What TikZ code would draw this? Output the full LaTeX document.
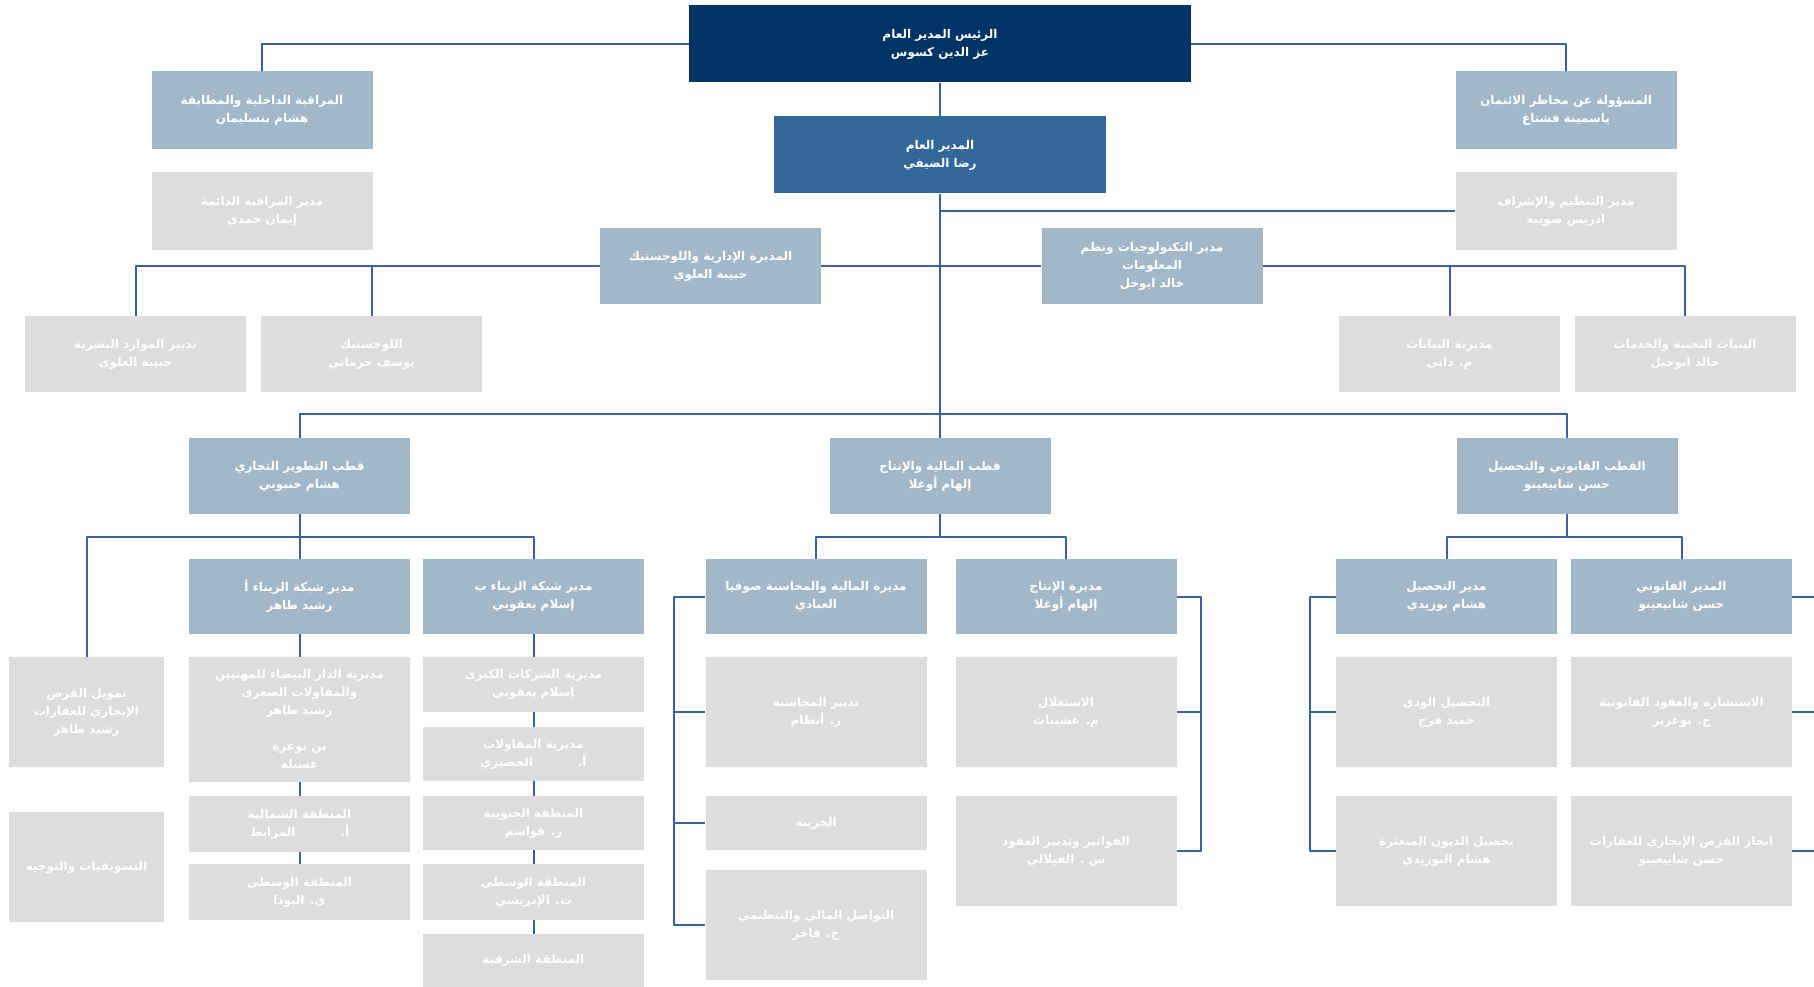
\documentclass[tikz,border=0pt]{standalone}
\usepackage{fontspec}
\newfontfamily\arabicfont[Script=Arabic]{DejaVu Sans}
\TeXXeTstate=1
\definecolor{navy}{RGB}{0,51,102}
\definecolor{dgblue}{RGB}{51,102,153}
\definecolor{steel}{RGB}{162,184,200}
\definecolor{pale}{RGB}{221,221,221}
\definecolor{wire}{RGB}{56,98,158}
\newcommand{\ar}[1]{\beginR #1\endR}
\tikzset{
  unit/.style={rectangle, inner sep=2pt, align=center, text=white,
    font=\arabicfont\bfseries\fontsize{12}{18}\selectfont,
    minimum width=221pt, minimum height=76pt},
  topbox/.style={unit, fill=navy, minimum width=502pt, minimum height=77pt},
  dgbox/.style={unit, fill=dgblue, minimum width=332pt, minimum height=77pt},
  midbox/.style={unit, fill=steel},
  subbox/.style={unit, fill=pale},
  link/.style={draw=wire, line width=2pt}
}
\begin{document}
\begin{tikzpicture}[x=1pt,y=-1pt, line join=round]
\useasboundingbox (0,0) rectangle (1814,987);
% head of the company
\node[topbox] (pres) at (940,44) {\ar{الرئيس المدير العام}\\\ar{عز الدين كسوس}};
\node[dgbox] (dg) at (940,155) {\ar{المدير العام}\\\ar{رضا الضيفي}};
\node[midbox, minimum height=78pt] (audit) at (262,110) {\ar{المراقبة الداخلية والمطابقة}\\\ar{هشام بنسليمان}};
\node[subbox, minimum height=78pt] (permctl) at (262,211) {\ar{مدير المراقبة الدائمة}\\\ar{إيمان حمدي}};
\node[midbox, minimum height=78pt] (risk) at (1566,110) {\ar{المسؤولة عن مخاطر الائتمان}\\\ar{ياسمينة فشتاغ}};
\node[subbox, minimum height=78pt] (supv) at (1566,211) {\ar{مدير التنظيم والإشراف}\\\ar{ادريس صويبة}};
% support functions
\node[midbox] (admin) at (710.5,266) {\ar{المديرة الإدارية واللوجستيك}\\\ar{حبيبة العلوي}};
\node[midbox] (it) at (1152,266) {\ar{مدير التكنولوجيات ونظم}\\\ar{المعلومات}\\\ar{خالد ابوحل}};
\node[subbox] (hr) at (135.5,354) {\ar{تدبير الموارد البشرية}\\\ar{حبيبة العلوي}};
\node[subbox] (logi) at (371.5,354) {\ar{اللوجستيك}\\\ar{يوسف حرماني}};
\node[subbox] (data) at (1449.5,354) {\ar{مديرية البيانات}\\\ar{م. داني}};
\node[subbox] (infra) at (1685,354) {\ar{البنيات التحتية والخدمات}\\\ar{خالد ابوجيل}};
% poles
\node[midbox] (com) at (299.5,476) {\ar{قطب التطوير التجاري}\\\ar{هشام خنبوبي}};
\node[midbox] (fin) at (940,476) {\ar{قطب المالية والإنتاج}\\\ar{إلهام أوغلا}};
\node[midbox] (leg) at (1567,476) {\ar{القطب القانوني والتحصيل}\\\ar{حسن شابيعينو}};
% commercial pole
\node[subbox, minimum width=155pt, minimum height=110pt] (lease) at (86.5,712) {\ar{تمويل القرض}\\\ar{الإيجاري للعقارات}\\\ar{رشيد طاهر}};
\node[subbox, minimum width=155pt, minimum height=110pt] (mkt) at (86.5,867) {\ar{التسويقيات والتوجيه}};
\node[midbox, minimum height=75pt] (zna) at (299.5,596.5) {\ar{مدير شبكة الزيناء أ}\\\ar{رشيد طاهر}};
\node[midbox, minimum height=75pt] (znb) at (533.5,596.5) {\ar{مدير شبكة الزيناء ب}\\\ar{إسلام يعقوبي}};
\node[subbox, minimum height=125pt] (casa) at (299.5,719.5) {\ar{مديرية الدار البيضاء للمهنيين}\\\ar{والمقاولات الصغرى}\\\ar{رشيد طاهر}\\[18pt]\ar{بن بوعزة}\\\ar{عسيلة}};
\node[subbox, minimum height=56pt] (nthA) at (299.5,824) {\ar{المنطقة الشمالية}\\\ar{أ.\hspace{45pt}المرابط}};
\node[subbox, minimum height=56pt] (ctrA) at (299.5,892) {\ar{المنطقة الوسطى}\\\ar{ي. البودا}};
\node[subbox, minimum height=55pt] (bigco) at (533.5,684.5) {\ar{مديرية الشركات الكبرى}\\\ar{إسلام يعقوبي}};
\node[subbox, minimum height=54pt] (contr) at (533.5,754) {\ar{مديرية المقاولات}\\\ar{أ.\hspace{45pt}الخضيري}};
\node[subbox, minimum height=54pt] (sth) at (533.5,823) {\ar{المنطقة الجنوبية}\\\ar{ر. قواسم}};
\node[subbox, minimum height=56pt] (ctrB) at (533.5,892) {\ar{المنطقة الوسطى}\\\ar{ت. الإدريسي}};
\node[subbox, minimum height=53pt] (est) at (533.5,960.5) {\ar{المنطقة الشرقية}};
% finance pole
\node[midbox, minimum height=75pt] (finacc) at (816,596.5) {\ar{مديرة المالية والمحاسبة صوفيا}\\\ar{العبادي}};
\node[midbox, minimum height=75pt] (prod) at (1066,596.5) {\ar{مديرة الإنتاج}\\\ar{إلهام أوغلا}};
\node[subbox, minimum height=110pt] (acct) at (816,712) {\ar{تدبير المحاسبة}\\\ar{ر. أنظام}};
\node[subbox, minimum height=54pt] (treas) at (816,823) {\ar{الخزينة}};
\node[subbox, minimum height=110pt] (fcomm) at (816,925) {\ar{التواصل المالي والتنظيمي}\\\ar{ح. فاخر}};
\node[subbox, minimum height=110pt] (expl) at (1066,712) {\ar{الاستغلال}\\\ar{م. عشيبات}};
\node[subbox, minimum height=110pt] (invc) at (1066,851) {\ar{الفواتير وتدبير العقود}\\\ar{س . الفيلالي}};
% legal pole
\node[midbox, minimum height=75pt] (coll) at (1446.5,596.5) {\ar{مدير التحصيل}\\\ar{هشام بوزيدي}};
\node[midbox, minimum height=75pt] (legm) at (1681.5,596.5) {\ar{المدير القانوني}\\\ar{حسن شابيعينو}};
\node[subbox, minimum height=110pt] (amic) at (1446.5,712) {\ar{التحصيل الودي}\\\ar{حميد فرج}};
\node[subbox, minimum height=110pt] (baddebt) at (1446.5,851) {\ar{تحصيل الديون المتعثرة}\\\ar{هشام البوزيدي}};
\node[subbox, minimum height=110pt] (consult) at (1681.5,712) {\ar{الاستشارة والعقود القانونية}\\\ar{ج. بوعزيز}};
\node[subbox, minimum height=110pt] (lleas) at (1681.5,851) {\ar{انجاز القرض الإيجاري للعقارات}\\\ar{حسن شابيعينو}};
% links at the top
\draw[link] (pres.west) -| (audit.north);
\draw[link] (pres.east) -| (risk.north);
\draw[link] (pres.south) -- (dg.north);
\coordinate (hub) at (940,414);
\draw[link] (dg.south) -- (hub);
\draw[link] (supv.west) -- (supv.west -| hub);
\draw[link] (admin.east) -- (it.west);
\draw[link] (admin.west) -| (hr.north);
\draw[link] (admin.west -| logi.north) -- (logi.north);
\draw[link] (it.east) -| (infra.north);
\draw[link] (it.east -| data.north) -- (data.north);
\draw[link] (com.north) |- (hub) -| (leg.north);
\draw[link] (hub) -- (fin.north);
% commercial links
\coordinate (comhub) at (299.5,537);
\draw[link] (com.south) -- (comhub);
\draw[link] (lease.north) |- (comhub) -| (znb.north);
\draw[link] (comhub) -- (zna.north);
\draw[link] (zna.south) -- (casa.north);
\draw[link] (casa.south) -- (nthA.north);
\draw[link] (nthA.south) -- (ctrA.north);
\draw[link] (znb.south) -- (bigco.north);
\draw[link] (bigco.south) -- (contr.north);
\draw[link] (contr.south) -- (sth.north);
\draw[link] (sth.south) -- (ctrB.north);
\draw[link] (ctrB.south) -- (est.north);
% finance links
\coordinate (finhub) at (940,537);
\draw[link] (fin.south) -- (finhub);
\draw[link] (finacc.north) |- (finhub) -| (prod.north);
\draw[link] (finacc.west) -- ++(-31,0) coordinate (fr) |- (fcomm.west);
\draw[link] (acct.west) -- (acct.west -| fr);
\draw[link] (treas.west) -- (treas.west -| fr);
\draw[link] (prod.east) -- ++(24,0) coordinate (pr) |- (invc.east);
\draw[link] (expl.east) -- (expl.east -| pr);
% legal links
\coordinate (leghub) at (1567,537);
\draw[link] (leg.south) -- (leghub);
\draw[link] (coll.north) |- (leghub) -| (legm.north);
\draw[link] (coll.west) -- ++(-26,0) coordinate (cr) |- (baddebt.west);
\draw[link] (amic.west) -- (amic.west -| cr);
\draw[link] (legm.east) -- ++(28,0) coordinate (lr) |- (lleas.east);
\draw[link] (consult.east) -- (consult.east -| lr);
\end{tikzpicture}
\end{document}
